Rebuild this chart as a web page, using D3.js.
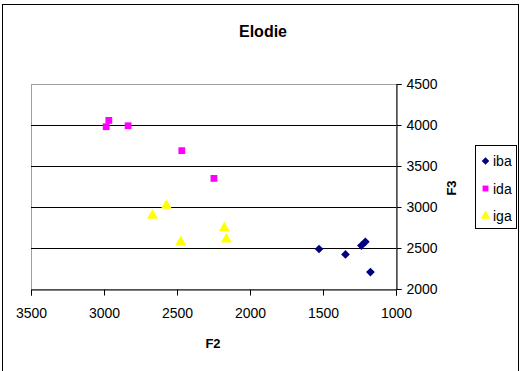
<!DOCTYPE html>
<html><head><meta charset="utf-8">
<script src="https://cdn.jsdelivr.net/npm/d3@7"></script>
<style>body{margin:0;background:#fff}svg{display:block}text{font-family:"Liberation Sans",Arial,sans-serif}</style>
</head><body><svg id="c" width="521" height="371"></svg>
<script>
const seriesNames = ["iba", "ida", "iga"];
const ibaF2 = [1527, 1346, 1237, 1210, 1175];
const ibaF3 = [2488, 2422, 2530, 2575, 2207];
const idaF2 = [2985, 2967, 2835, 2467, 2247];
const idaF3 = [3979, 4056, 3991, 3687, 3349];
const igaF2 = [2668, 2573, 2474, 2176, 2162];
const igaF3 = [2894, 3016, 2573, 2744, 2605];
const xTicks = [3500, 3000, 2500, 2000, 1500, 1000];
const yTicks = [2000, 2500, 3000, 3500, 4000, 4500];
const colors = ["#000080", "#FF00FF", "#FFFF00"];
const symbols = [d3.symbolSquare, d3.symbolSquare, d3.symbolTriangle];
const rot = [45, 0, 0];
const sizes=[38,46,52];

const svg = d3.select("#c");
svg.append("rect").attr("x",2.5).attr("y",4.5).attr("width",516).attr("height",370).attr("fill","#fff").attr("stroke","#000");

const L=31, R=396, T=84, B=289;
const x = d3.scaleLinear().domain([3500,1000]).range([L,R]);
const y = d3.scaleLinear().domain([2000,4500]).range([B,T]);

svg.append("rect").attr("x",L+0.5).attr("y",T+0.5).attr("width",R-L).attr("height",B-T).attr("fill","none").attr("stroke","#a0a0a0");
svg.append("g").selectAll("line").data(yTicks.filter(v=>v>2000&&v<4500)).join("line")
  .attr("x1",L).attr("x2",R).attr("y1",d=>Math.round(y(d))+0.5).attr("y2",d=>Math.round(y(d))+0.5).attr("stroke","#000");

const xa = svg.append("g").attr("transform",`translate(0,${B+0.5})`)
  .call(d3.axisBottom(x).tickValues(xTicks).tickSize(6).tickPadding(13).tickFormat(d3.format("d")));
const ya = svg.append("g").attr("transform",`translate(${R+0.5},0)`)
  .call(d3.axisRight(y).tickValues(yTicks).tickSize(5).tickPadding(5).tickFormat(d3.format("d")));
[xa,ya].forEach(g=>{g.select(".domain").attr("stroke","#000");g.selectAll(".tick line").attr("stroke","#000");
  g.selectAll("text").attr("font-size",14).attr("fill","#000").attr("font-family","Liberation Sans, Arial, sans-serif");});

const data = [
  ibaF2.map((v,i)=>({x:v,y:ibaF3[i]})),
  idaF2.map((v,i)=>({x:v,y:idaF3[i]})),
  igaF2.map((v,i)=>({x:v,y:igaF3[i]}))
];
data.forEach((pts,si)=>{
  svg.append("g").selectAll("path").data(pts).join("path")
    .attr("d",d3.symbol().type(symbols[si]).size(sizes[si]))
    .attr("transform",d=>`translate(${x(d.x)},${y(d.y)}) rotate(${rot[si]})`)
    .attr("fill",colors[si]);
});

svg.append("text").attr("x",263).attr("y",37).attr("text-anchor","middle").attr("font-size",16).attr("font-weight","bold").text("Elodie");
svg.append("text").attr("x",213).attr("y",348).attr("text-anchor","middle").attr("font-size",13).attr("font-weight","bold").text("F2");
svg.append("text").attr("transform","translate(456,188) rotate(-90)").attr("text-anchor","middle").attr("font-size",13).attr("font-weight","bold").text("F3");

const lg = svg.append("g");
lg.append("rect").attr("x",475.5).attr("y",145.5).attr("width",41).attr("height",83).attr("fill","#fff").attr("stroke","#000");
seriesNames.forEach((n,i)=>{
  const cy = 161 + i*27.5;
  lg.append("path").attr("d",d3.symbol().type(symbols[i]).size(sizes[i]*0.75)).attr("transform",`translate(485.5,${cy}) rotate(${rot[i]})`).attr("fill",colors[i]);
  lg.append("text").attr("x",493).attr("y",cy+5).attr("font-size",14).text(n);
});
</script></body></html>
